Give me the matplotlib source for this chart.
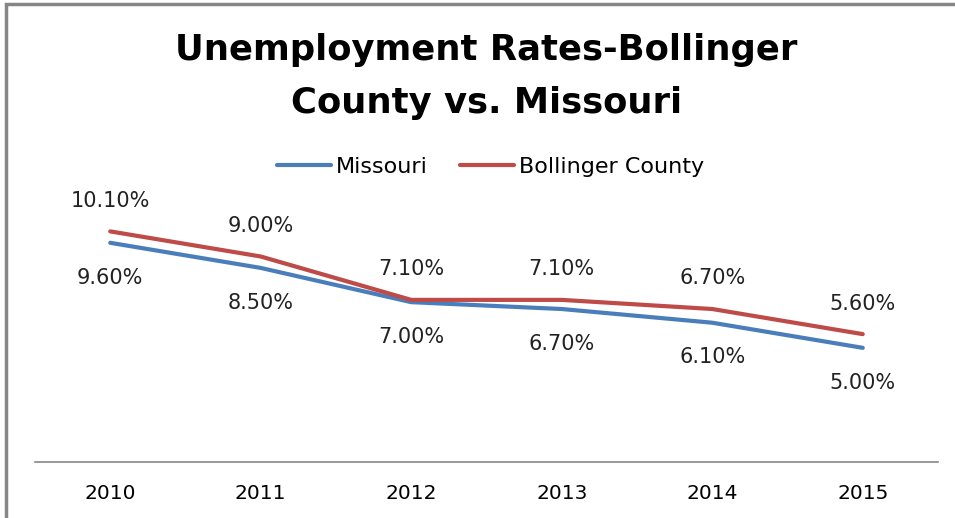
import matplotlib
matplotlib.use('Agg')
import matplotlib.pyplot as plt
from matplotlib.patches import Rectangle

years = ['2010', '2011', '2012', '2013', '2014', '2015']
missouri = [9.6, 8.5, 7.0, 6.7, 6.1, 5.0]
bollinger = [10.1, 9.0, 7.1, 7.1, 6.7, 5.6]

plt.rcParams['font.family'] = ['DejaVu Sans']

fig = plt.figure(figsize=(9.55, 5.18), dpi=100)
ax = fig.add_axes([35/955., 56/518., 903/955., 274/518.])

x = list(range(len(years)))
blue = '#4a7ebb'
red = '#be4b48'
ax.plot(x, missouri, color=blue, lw=3, label='Missouri', solid_capstyle='round')
ax.plot(x, bollinger, color=red, lw=3, label='Bollinger County', solid_capstyle='round')

# data labels: Missouri below, Bollinger above
for xi, v in zip(x, missouri):
  ax.annotate('%.2f%%' % v, (xi, v), xytext=(0, -25), textcoords='offset points',
              ha='center', va='center', fontsize=15, color='#222222')
for xi, v in zip(x, bollinger):
  ax.annotate('%.2f%%' % v, (xi, v), xytext=(0, 22), textcoords='offset points',
              ha='center', va='center', fontsize=15, color='#222222')

ax.set_xlim(-0.5, 5.5)
ax.set_ylim(0, 12)
ax.set_xticks(x)
ax.set_xticklabels(years, fontsize=14.5)
ax.tick_params(axis='x', length=0, pad=16)
ax.set_yticks([])
for s in ['top', 'right', 'left']:
  ax.spines[s].set_visible(False)
ax.spines['bottom'].set_color('#868686')
ax.spines['bottom'].set_linewidth(1.2)

fig.text(0.509, 1 - 50/518., 'Unemployment Rates-Bollinger', ha='center', va='center',
         fontsize=25.5, fontweight='bold')
fig.text(0.509, 1 - 103/518., 'County vs. Missouri', ha='center', va='center',
         fontsize=25.5, fontweight='bold')

fig.legend(loc='center', bbox_to_anchor=(0.514, 1 - 167/518.), ncol=2, frameon=False,
           fontsize=16, handlelength=2.4, columnspacing=1.45, handletextpad=0.25)

# chart border
fig.patches.append(Rectangle((6/955., -0.1), 2.0, 1 - 4/518. + 0.1, transform=fig.transFigure,
                             fill=False, edgecolor='#868686', lw=2.5))

plt.savefig('out.png', dpi=100)
plt.close()
